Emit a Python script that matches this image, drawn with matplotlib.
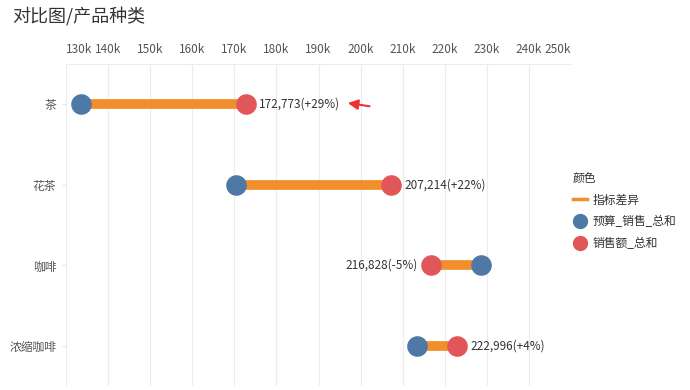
import matplotlib.pyplot as plt
from matplotlib.lines import Line2D

plt.rcParams['font.family'] = ['Noto Sans CJK SC', 'DejaVu Sans']

categories = ['茶', '花茶', '咖啡', '浓缩咖啡']
budget = [133500, 170500, 228500, 213500]
sales = [172773, 207214, 216828, 222996]
ticks = list(range(130000, 250001, 10000))

blue = '#4e79a7'
red = '#e15759'
orange = '#f28e2b'

fig = plt.figure(figsize=(6.9, 3.9), dpi=100)
ax = fig.add_axes([66 / 690, 4 / 390, (571 - 66) / 690, 1 - 68 / 390])

ys = list(range(len(categories)))
for y, b, s in zip(ys, budget, sales):
    ax.plot([b, s], [y, y], color=orange, lw=7, solid_capstyle='butt', zorder=2)
    ax.scatter([b], [y], s=220, color=blue, zorder=3, linewidths=0)
    ax.scatter([s], [y], s=220, color=red, zorder=3, linewidths=0)
    pct = round((s / b - 1) * 100)
    txt = f'{s:,}({pct:+d}%)'
    if s >= b:
        ax.annotate(txt, (s, y), xytext=(9.5, 0), textcoords='offset points',
                    ha='left', va='center', fontsize=8.5, color='#333333')
    else:
        ax.annotate(txt, (s, y), xytext=(-9.5, 0), textcoords='offset points',
                    ha='right', va='center', fontsize=8.5, color='#333333')

# red arrow next to the first label
ax.annotate('', xy=(196300, -0.02), xytext=(202800, 0.03),
            arrowprops=dict(arrowstyle='-|>,head_length=0.6,head_width=0.3',
                            color='#ee3333', lw=1.5), zorder=4)

ax.set_xlim(130000, 250000)
ax.set_ylim(3.5, -0.5)
ax.xaxis.tick_top()
ax.set_xticks(ticks)
labels = [f'{t // 1000}k' for t in ticks]
ax.set_xticklabels(labels, fontsize=8.5, color='#555555')
xl = ax.get_xticklabels()
xl[0].set_horizontalalignment('left')
xl[-1].set_horizontalalignment('right')
ax.tick_params(axis='x', length=0, pad=6)
ax.set_yticks(ys)
ax.set_yticklabels(categories, fontsize=8.5, color='#555555')
ax.tick_params(axis='y', length=3, color='#e6e6e6', pad=4)
ax.grid(axis='x', color='#ececec', lw=0.8)
ax.set_axisbelow(True)
for side in ['right', 'bottom', 'left']:
    ax.spines[side].set_visible(False)
ax.spines['top'].set_color('#ececec')

fig.text(12 / 690, 1 - 17 / 390, '对比图/产品种类', fontsize=13, color='#333333',
         ha='left', va='center')

handles = [
    Line2D([], [], color=orange, lw=2.5),
    Line2D([], [], marker='o', ls='', color=blue, markersize=10),
    Line2D([], [], marker='o', ls='', color=red, markersize=10),
]
leg = fig.legend(handles, ['指标差异', '预算_销售_总和', '销售额_总和'],
                 title='颜色', loc='upper left', bbox_to_anchor=(568 / 690, 1 - 167 / 390),
                 frameon=False, fontsize=8.5, title_fontsize=8.5,
                 handlelength=1.2, handletextpad=0.5, labelspacing=0.75,
                 alignment='left', borderaxespad=0)
for t in leg.get_texts():
    t.set_color('#333333')
leg.get_title().set_color('#333333')

fig.savefig('out.png', dpi=100)
